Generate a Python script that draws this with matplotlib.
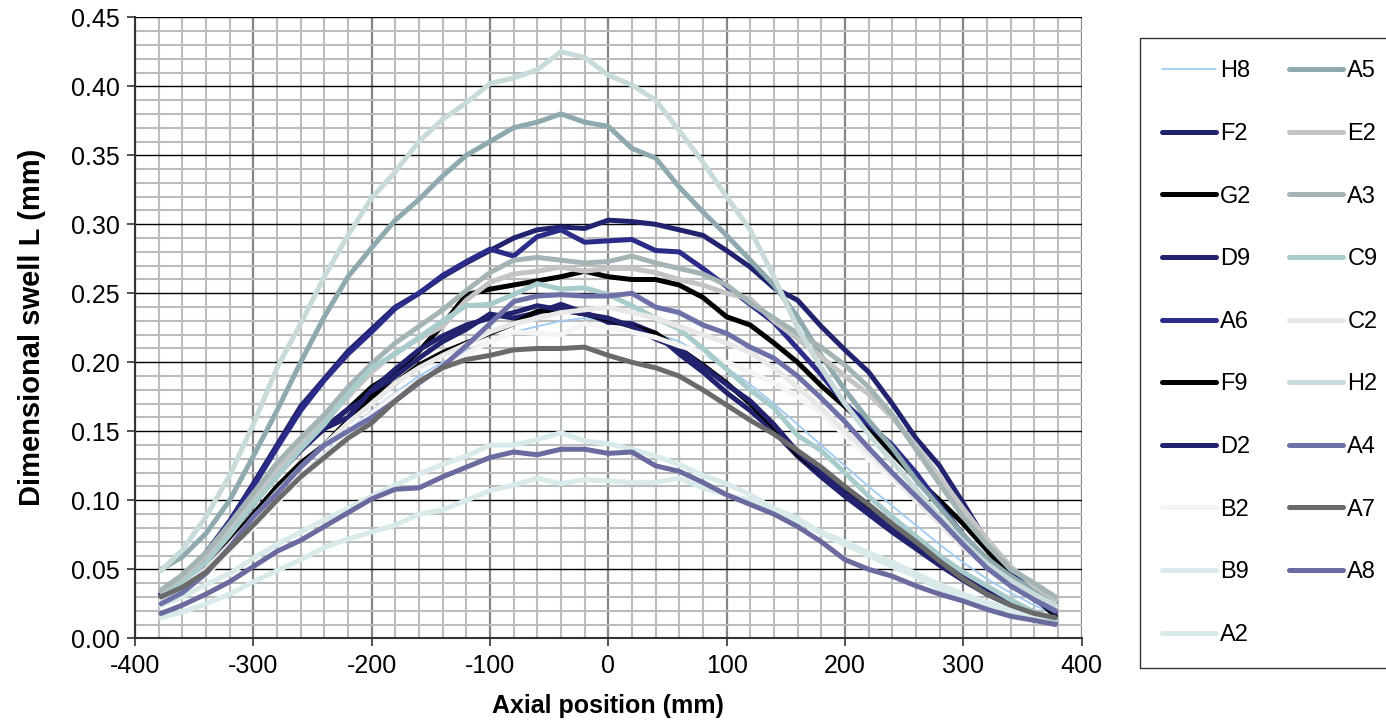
import matplotlib
matplotlib.use("Agg")
import matplotlib.pyplot as plt
import numpy as np
from matplotlib.ticker import MultipleLocator, FormatStrFormatter

plt.rcParams['font.family'] = ['Liberation Sans', 'DejaVu Sans']
plt.rcParams['axes.unicode_minus'] = False

# Axial positions (mm)
x_mm = [-378, -360, -340, -320, -300, -280, -260, -240, -220, -200,
        -180, -160, -140, -120, -100, -80, -60, -40, -20, 0,
        20, 40, 60, 80, 100, 120, 140, 160, 180, 200,
        220, 240, 260, 280, 300, 320, 340, 360, 378]

H8 = [0.027, 0.035, 0.048, 0.065, 0.083, 0.100, 0.118, 0.134, 0.150, 0.165,
      0.178, 0.190, 0.200, 0.208, 0.216, 0.222, 0.226, 0.230, 0.232, 0.230,
      0.226, 0.221, 0.215, 0.206, 0.196, 0.184, 0.170, 0.155, 0.140, 0.125,
      0.110, 0.096, 0.082, 0.068, 0.055, 0.043, 0.033, 0.024, 0.017]
F2 = [0.034, 0.044, 0.062, 0.085, 0.112, 0.140, 0.168, 0.188, 0.208, 0.224,
      0.240, 0.250, 0.262, 0.272, 0.281, 0.290, 0.296, 0.298, 0.297, 0.303,
      0.302, 0.300, 0.296, 0.292, 0.281, 0.269, 0.254, 0.245, 0.226, 0.209,
      0.193, 0.170, 0.145, 0.125, 0.098, 0.070, 0.050, 0.035, 0.025]
G2 = [0.032, 0.041, 0.056, 0.075, 0.097, 0.120, 0.138, 0.152, 0.166, 0.182,
      0.193, 0.208, 0.227, 0.249, 0.253, 0.256, 0.259, 0.262, 0.266, 0.262,
      0.260, 0.260, 0.256, 0.247, 0.233, 0.227, 0.214, 0.200, 0.183, 0.168,
      0.152, 0.134, 0.116, 0.100, 0.083, 0.064, 0.045, 0.030, 0.016]
D9 = [0.031, 0.040, 0.055, 0.075, 0.097, 0.118, 0.136, 0.152, 0.166, 0.176,
      0.190, 0.203, 0.215, 0.224, 0.235, 0.232, 0.236, 0.242, 0.236, 0.229,
      0.228, 0.221, 0.206, 0.193, 0.178, 0.165, 0.150, 0.132, 0.117, 0.103,
      0.090, 0.077, 0.065, 0.053, 0.042, 0.032, 0.024, 0.018, 0.012]
A6 = [0.033, 0.043, 0.061, 0.084, 0.110, 0.138, 0.165, 0.187, 0.206, 0.222,
      0.239, 0.250, 0.263, 0.273, 0.282, 0.277, 0.291, 0.296, 0.287, 0.288,
      0.289, 0.281, 0.280, 0.268, 0.255, 0.242, 0.229, 0.210, 0.191, 0.170,
      0.155, 0.140, 0.120, 0.097, 0.075, 0.055, 0.040, 0.028, 0.019]
F9 = [0.030, 0.039, 0.052, 0.070, 0.090, 0.110, 0.127, 0.140, 0.158, 0.175,
      0.185, 0.198, 0.207, 0.214, 0.221, 0.228, 0.237, 0.238, 0.235, 0.231,
      0.226, 0.221, 0.210, 0.198, 0.185, 0.170, 0.153, 0.133, 0.120, 0.107,
      0.095, 0.082, 0.070, 0.056, 0.044, 0.034, 0.025, 0.018, 0.013]
D2 = [0.032, 0.042, 0.058, 0.078, 0.100, 0.120, 0.138, 0.152, 0.160, 0.180,
      0.195, 0.209, 0.219, 0.227, 0.232, 0.236, 0.241, 0.238, 0.235, 0.232,
      0.226, 0.217, 0.210, 0.197, 0.184, 0.172, 0.155, 0.135, 0.120, 0.105,
      0.092, 0.080, 0.068, 0.055, 0.044, 0.034, 0.026, 0.019, 0.013]
B2 = [0.026, 0.034, 0.046, 0.062, 0.080, 0.098, 0.116, 0.132, 0.148, 0.163,
      0.176, 0.186, 0.195, 0.206, 0.215, 0.222, 0.221, 0.220, 0.228, 0.225,
      0.222, 0.218, 0.212, 0.207, 0.200, 0.193, 0.185, 0.175, 0.163, 0.147,
      0.130, 0.115, 0.100, 0.085, 0.070, 0.056, 0.043, 0.032, 0.023]
B9 = [0.024, 0.030, 0.039, 0.047, 0.058, 0.068, 0.077, 0.086, 0.094, 0.103,
      0.111, 0.119, 0.126, 0.132, 0.140, 0.140, 0.144, 0.149, 0.143, 0.141,
      0.137, 0.132, 0.126, 0.118, 0.112, 0.104, 0.094, 0.087, 0.076, 0.068,
      0.060, 0.052, 0.045, 0.036, 0.030, 0.025, 0.020, 0.016, 0.013]
A2 = [0.015, 0.019, 0.025, 0.032, 0.041, 0.049, 0.057, 0.066, 0.072, 0.077,
      0.082, 0.090, 0.093, 0.100, 0.107, 0.111, 0.116, 0.112, 0.115, 0.114,
      0.113, 0.113, 0.116, 0.109, 0.104, 0.100, 0.093, 0.085, 0.077, 0.070,
      0.062, 0.055, 0.047, 0.039, 0.032, 0.026, 0.021, 0.017, 0.014]
A5 = [0.050, 0.059, 0.076, 0.100, 0.132, 0.165, 0.200, 0.233, 0.262, 0.283,
      0.303, 0.318, 0.335, 0.350, 0.360, 0.370, 0.374, 0.380, 0.374, 0.371,
      0.355, 0.348, 0.327, 0.309, 0.292, 0.274, 0.256, 0.233, 0.205, 0.180,
      0.158, 0.138, 0.115, 0.095, 0.075, 0.058, 0.045, 0.035, 0.027]
E2 = [0.034, 0.044, 0.060, 0.080, 0.101, 0.122, 0.140, 0.158, 0.175, 0.193,
      0.207, 0.217, 0.226, 0.245, 0.258, 0.264, 0.266, 0.269, 0.266, 0.268,
      0.268, 0.265, 0.260, 0.256, 0.250, 0.246, 0.230, 0.217, 0.204, 0.190,
      0.177, 0.160, 0.140, 0.117, 0.094, 0.072, 0.052, 0.038, 0.028]
A3 = [0.035, 0.046, 0.062, 0.083, 0.105, 0.127, 0.145, 0.162, 0.182, 0.199,
      0.214, 0.226, 0.238, 0.252, 0.265, 0.274, 0.276, 0.274, 0.272, 0.273,
      0.277, 0.272, 0.268, 0.264, 0.256, 0.243, 0.232, 0.221, 0.211, 0.198,
      0.182, 0.162, 0.137, 0.112, 0.088, 0.068, 0.050, 0.040, 0.030]
C9 = [0.030, 0.040, 0.055, 0.075, 0.097, 0.117, 0.137, 0.155, 0.177, 0.196,
      0.206, 0.218, 0.230, 0.241, 0.242, 0.249, 0.257, 0.253, 0.254, 0.249,
      0.241, 0.232, 0.224, 0.210, 0.195, 0.180, 0.167, 0.147, 0.136, 0.120,
      0.103, 0.088, 0.074, 0.060, 0.048, 0.038, 0.028, 0.019, 0.013]
C2 = [0.028, 0.037, 0.050, 0.068, 0.087, 0.106, 0.124, 0.140, 0.156, 0.170,
      0.185, 0.196, 0.205, 0.213, 0.222, 0.228, 0.232, 0.236, 0.238, 0.240,
      0.236, 0.232, 0.226, 0.220, 0.214, 0.207, 0.196, 0.182, 0.167, 0.150,
      0.135, 0.118, 0.100, 0.083, 0.066, 0.052, 0.040, 0.031, 0.024]
H2 = [0.049, 0.064, 0.088, 0.118, 0.155, 0.196, 0.228, 0.262, 0.292, 0.319,
      0.338, 0.360, 0.376, 0.388, 0.402, 0.406, 0.412, 0.425, 0.421, 0.408,
      0.401, 0.390, 0.368, 0.345, 0.320, 0.296, 0.262, 0.225, 0.196, 0.170,
      0.148, 0.128, 0.108, 0.088, 0.070, 0.054, 0.042, 0.032, 0.024]
A4 = [0.025, 0.033, 0.047, 0.066, 0.088, 0.105, 0.124, 0.140, 0.150, 0.160,
      0.172, 0.185, 0.197, 0.212, 0.228, 0.244, 0.248, 0.249, 0.248, 0.248,
      0.250, 0.240, 0.236, 0.227, 0.221, 0.211, 0.203, 0.190, 0.174, 0.157,
      0.138, 0.120, 0.103, 0.086, 0.068, 0.051, 0.038, 0.028, 0.020]
A7 = [0.030, 0.037, 0.048, 0.065, 0.082, 0.100, 0.117, 0.131, 0.145, 0.156,
      0.172, 0.186, 0.196, 0.202, 0.205, 0.209, 0.210, 0.210, 0.211, 0.205,
      0.200, 0.196, 0.190, 0.180, 0.169, 0.158, 0.148, 0.136, 0.124, 0.110,
      0.097, 0.083, 0.070, 0.056, 0.043, 0.032, 0.024, 0.018, 0.015]
A8 = [0.018, 0.024, 0.032, 0.041, 0.052, 0.063, 0.071, 0.081, 0.091, 0.101,
      0.108, 0.109, 0.117, 0.124, 0.131, 0.135, 0.133, 0.137, 0.137, 0.134,
      0.135, 0.125, 0.121, 0.113, 0.104, 0.097, 0.090, 0.081, 0.070, 0.057,
      0.050, 0.045, 0.038, 0.032, 0.027, 0.021, 0.016, 0.013, 0.010]

series_names = ['H8', 'F2', 'G2', 'D9', 'A6', 'F9', 'D2', 'B2', 'B9', 'A2',
                'A5', 'E2', 'A3', 'C9', 'C2', 'H2', 'A4', 'A7', 'A8']
series_values = [H8, F2, G2, D9, A6, F9, D2, B2, B9, A2,
                 A5, E2, A3, C9, C2, H2, A4, A7, A8]
series_colors = ['#9fcbf2', '#22226e', '#000000', '#22226e', '#2b2b8a',
                 '#000000', '#22226e', '#f4f4f4', '#d8eaea', '#d8eaea',
                 '#8faaae', '#c4c4c4', '#a4b4b4', '#a8cccc', '#e8e8e8',
                 '#c8dada', '#6e70a8', '#6a6a6a', '#6a6a9e']
series_widths = [1.3] + [3.6] * 18

W, H = 1386, 721
fig = plt.figure(figsize=(W / 100, H / 100), dpi=100)
x0, x1, y0, y1 = 135, 1081.5, 638.3, 17.3
ax = fig.add_axes([x0 / W, (H - y0) / H, (x1 - x0) / W, (y0 - y1) / H])

lines = []
for name, vals, col, lw in zip(series_names, series_values, series_colors, series_widths):
    ln, = ax.plot(x_mm, vals, color=col, lw=lw, label=name,
                  solid_capstyle='round', solid_joinstyle='round', zorder=3)
    lines.append(ln)

ax.set_xlim(-400, 400)
ax.set_ylim(0.0, 0.45)
ax.xaxis.set_major_locator(MultipleLocator(100))
ax.xaxis.set_minor_locator(MultipleLocator(20))
ax.yaxis.set_major_locator(MultipleLocator(0.05))
ax.yaxis.set_minor_locator(MultipleLocator(0.01))
ax.yaxis.set_major_formatter(FormatStrFormatter('%.2f'))

ax.grid(which='minor', axis='both', color='#bcbcbc', lw=1.5, zorder=0)
ax.grid(which='major', axis='x', color='#858585', lw=1.6, zorder=1)
ax.grid(which='major', axis='y', color='#000000', lw=1.0, zorder=1)
ax.set_axisbelow(True)

ax.tick_params(which='major', direction='out', length=6, width=1.2,
               color='#333333', labelsize=18, pad=5)
ax.tick_params(which='minor', length=0)
for side in ['left', 'bottom']:
    ax.spines[side].set_color('#333333')
    ax.spines[side].set_linewidth(1.5)
for side in ['top', 'right']:
    ax.spines[side].set_visible(False)

ax.set_xlabel('Axial position (mm)', fontsize=18, fontweight='bold', labelpad=12)
ax.set_ylabel('Dimensional swell L (mm)', fontsize=21, fontweight='bold', labelpad=18)

leg = fig.legend(handles=lines, loc='upper left',
                 bbox_to_anchor=(1140 / W, 1 - 38 / H), ncol=2,
                 fontsize=17, frameon=True, fancybox=False,
                 edgecolor='#333333', framealpha=1.0,
                 handlelength=2.25, handletextpad=0.2, columnspacing=1.6,
                 labelspacing=1.72, borderpad=0.95, borderaxespad=0.0)
leg.get_frame().set_linewidth(1.0)

fig.savefig('out.png', dpi=100)
